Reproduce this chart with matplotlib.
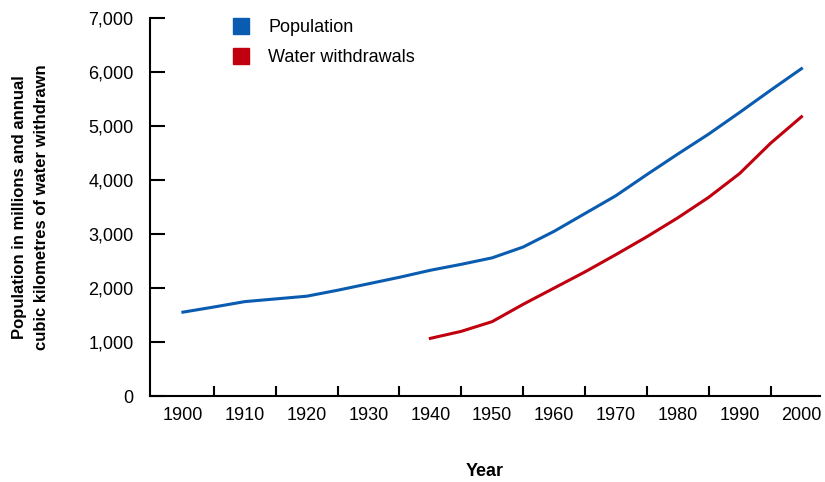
import matplotlib.pyplot as plt
from matplotlib.lines import Line2D
from matplotlib.ticker import FixedLocator, NullFormatter

plt.rcParams['font.family'] = ['Liberation Sans', 'DejaVu Sans']

# valores
years_pop = [1900, 1905, 1910, 1915, 1920, 1925, 1930, 1935, 1940, 1945, 1950,
             1955, 1960, 1965, 1970, 1975, 1980, 1985, 1990, 1995, 2000]
population = [1555, 1650, 1750, 1800, 1850, 1960, 2080, 2200, 2330, 2440, 2560,
              2760, 3050, 3380, 3710, 4100, 4480, 4850, 5250, 5660, 6060]

years_water = [1940, 1945, 1950, 1955, 1960, 1965, 1970, 1975, 1980, 1985, 1990, 1995, 2000]
withdrawals = [1070, 1200, 1380, 1700, 2000, 2300, 2620, 2950, 3300, 3680, 4120, 4680, 5170]

decades = list(range(1900, 2001, 10))
yticks = list(range(0, 7001, 1000))

blue = '#0a5cb0'
red = '#c0000e'

fig = plt.figure(figsize=(8.25, 4.82), dpi=100)
ax = fig.add_axes([0.182, 0.178, 0.812, 0.785])

ax.plot(years_pop, population, color=blue, lw=2.2)
ax.plot(years_water, withdrawals, color=red, lw=2.2)

ax.set_xlim(1894.7, 2003)
ax.set_ylim(0, 7000)

# marcas entre décadas, etiquetas en las décadas
ax.xaxis.set_major_locator(FixedLocator([d + 5 for d in decades[:-1]]))
ax.xaxis.set_major_formatter(NullFormatter())
ax.xaxis.set_minor_locator(FixedLocator(decades))
ax.set_xticklabels([str(d) for d in decades], minor=True)
ax.tick_params(axis='x', which='major', direction='in', length=7, width=1.5)
ax.tick_params(axis='x', which='minor', length=0, pad=8, labelsize=13)

ax.set_yticks(yticks)
ax.set_yticklabels([f'{v:,}' for v in yticks])
ax.tick_params(axis='y', direction='in', length=11, width=1.5, pad=12, labelsize=13)

for s in ['top', 'right']:
    ax.spines[s].set_visible(False)
for s in ['left', 'bottom']:
    ax.spines[s].set_linewidth(1.5)

ax.set_xlabel('Year', fontsize=13, fontweight='bold', labelpad=28)
ax.set_ylabel('Population in millions and annual\ncubic kilometres of water withdrawn',
              fontsize=12, fontweight='bold', labelpad=28, linespacing=1.6)

handles = [Line2D([], [], marker='s', ls='', color=blue, markersize=11),
           Line2D([], [], marker='s', ls='', color=red, markersize=11)]
ax.legend(handles, ['Population', 'Water withdrawals'], loc='upper left',
          bbox_to_anchor=(0.085, 1.04), frameon=False, fontsize=13,
          handletextpad=0.5, labelspacing=0.75)

fig.savefig('out.png', dpi=100)
